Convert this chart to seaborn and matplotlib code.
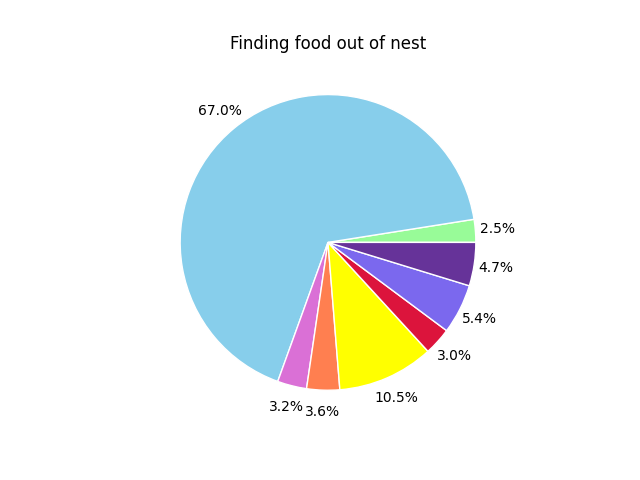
"""Pie chart: finding food out of nest."""

import matplotlib
matplotlib.use("Agg")
import matplotlib.pyplot as plt
import seaborn as sns

shares = [2.5, 66.98, 3.2, 3.6, 10.54, 3.0, 5.44, 4.74]
slice_colors = [
    "palegreen", "skyblue", "orchid", "coral",
    "yellow", "crimson", "mediumslateblue", "rebeccapurple",
]
title = "Finding food out of nest"

sns.set_style("white")
plt.rcParams["font.family"] = ["DejaVu Sans"]
plt.rcParams["text.color"] = "black"
plt.rcParams["axes.titlecolor"] = "black"

fig, ax = plt.subplots(figsize=(6.4, 4.8), dpi=100)
ax.pie(
    shares,
    colors=sns.color_palette(slice_colors),
    autopct="%1.1f%%",
    pctdistance=1.15,
    wedgeprops={"edgecolor": "white", "linewidth": 1},
    textprops={"color": "black"},
)
ax.set_title(title, color="black")
ax.set_aspect("equal")
fig.savefig("out.png", dpi=100)
plt.close(fig)
